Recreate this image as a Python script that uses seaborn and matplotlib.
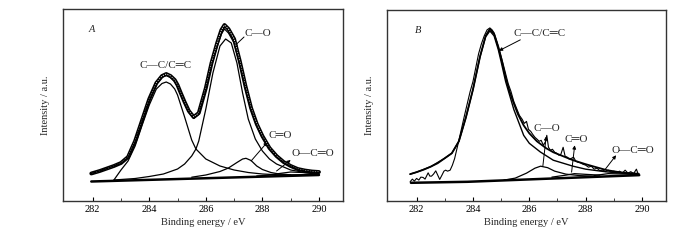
import matplotlib
matplotlib.use("Agg")
import matplotlib.pyplot as plt
import seaborn as sns
import pandas as pd

# ---------------- Panel A data (binding energy eV, intensity a.u.) ----------------
raw_a_x = [281.95, 282.25, 282.5, 282.75, 283.0, 283.25, 283.5, 283.75, 284.0, 284.25,
           284.45, 284.6, 284.75, 284.9, 285.0, 285.1, 285.25, 285.4, 285.57, 285.75,
           286.0, 286.2, 286.4, 286.55, 286.66, 286.8, 287.0, 287.2, 287.4, 287.6,
           287.8, 288.0, 288.25, 288.5, 288.75, 289.0, 289.25, 289.5, 289.75, 290.0]
raw_a_y = [27.5, 30, 32.5, 35, 38, 44, 60, 81, 102, 118,
           125, 127, 125, 121, 116, 109, 99, 90, 84, 88,
           113, 138, 158, 171, 176, 172, 162, 140, 115, 93,
           77, 65, 53, 45, 39, 35, 32, 30.5, 29.5, 29]
fit_a_y = [27.5, 30, 32.5, 35, 37.5, 43.5, 59, 80, 101, 116.5,
           123.5, 125.5, 123.5, 119.5, 114.5, 107.5, 97.5, 88.5, 82.5, 86.5,
           111, 135, 154.5, 167, 172, 168, 158, 136.5, 112, 90.5,
           75, 63.5, 52, 44, 38.5, 34.5, 31.5, 30, 29, 28.5]

base_a_x = [281.95, 290.0]
base_a_y = [19.5, 26.0]

cc_a_x = [282.75, 283.0, 283.25, 283.5, 283.75, 284.0, 284.25, 284.45, 284.6, 284.75,
          284.9, 285.0, 285.25, 285.5, 285.65, 286.0, 286.5, 287.0, 287.5, 288.0,
          288.5, 289.0, 289.5, 290.0]
cc_a_y = [21, 31, 40, 55, 76, 96, 112, 117.5, 119, 117,
          112, 106, 84, 61, 52, 42, 35, 31, 28.5, 27,
          26.3, 26.2, 26.4, 26.6]

co_a_x = [282.75, 283.0, 283.5, 284.0, 284.5, 285.0, 285.25, 285.5, 285.65, 285.75,
          286.0, 286.25, 286.5, 286.7, 286.9, 287.1, 287.3, 287.5, 287.75, 288.0,
          288.25, 288.5, 289.0, 289.5, 290.0]
co_a_y = [21, 21.5, 22.5, 24.5, 27, 32, 37, 45, 52, 60,
          92, 128, 155, 162, 158, 138, 108, 82, 62, 50,
          42, 37, 31, 28.5, 27.5]

c2o_a_x = [285.5, 286.0, 286.5, 286.8, 287.1, 287.3, 287.42, 287.6, 287.8, 288.0,
           288.3, 288.6, 289.0]
c2o_a_y = [23.8, 26, 29.5, 33, 38.5, 42, 42.7, 40.5, 35, 31.5,
           28.5, 27, 26.2]

occ_a_x = [287.8, 288.2, 288.6, 289.0, 289.4, 289.8, 290.0]
occ_a_y = [25.0, 25.8, 27.5, 29.0, 28.5, 27.3, 26.8]

# ---------------- Panel B data ----------------
raw_b_x = [281.77, 281.85, 281.92, 282.0, 282.08, 282.15, 282.23, 282.3, 282.41, 282.47,
           282.53, 282.6, 282.68, 282.75, 282.82, 282.9, 282.97, 283.03, 283.1, 283.19,
           283.27, 283.35, 283.46, 283.58, 283.7, 283.81, 283.9, 284.0, 284.1, 284.2,
           284.3, 284.4, 284.5, 284.6, 284.68, 284.75, 284.85, 284.95, 285.05, 285.15,
           285.25, 285.35, 285.45, 285.55, 285.65, 285.75, 285.82, 285.9, 285.97, 286.05,
           286.12, 286.2, 286.28, 286.35, 286.42, 286.5, 286.58, 286.62, 286.68, 286.75,
           286.82, 286.9, 286.97, 287.05, 287.12, 287.2, 287.27, 287.35, 287.42, 287.5,
           287.57, 287.65, 287.72, 287.8, 287.9, 288.0, 288.1, 288.2, 288.3, 288.4,
           288.5, 288.6, 288.7, 288.8, 288.9, 289.0, 289.1, 289.2, 289.3, 289.4,
           289.5, 289.6, 289.7, 289.8, 289.85, 289.9]
raw_b_y = [19.3, 22, 20, 22.7, 21, 24, 23.7, 22, 28.3, 25,
           25, 27, 30.3, 26, 21.7, 26, 30, 31, 30, 31,
           36, 42.7, 56, 71, 86, 99.3, 110, 120, 134, 148,
           158, 166, 172, 174, 172, 169, 160, 150, 140, 129,
           118, 110, 100, 93, 86, 82, 78, 80, 72, 70,
           67, 64, 62, 60, 61, 56, 60, 66, 54, 51,
           52, 49, 48, 46, 47, 54, 45, 44, 42, 43,
           44, 40, 39, 38.5, 37, 36, 34, 35, 32, 33,
           30.5, 31, 29.5, 31, 29, 30, 28.5, 30, 28, 31,
           28, 29.5, 27.5, 32, 28, 27.5]

fit_b_x = [281.77, 282.0, 282.25, 282.5, 282.75, 283.0, 283.25, 283.5, 283.75, 284.0,
           284.25, 284.45, 284.6, 284.75, 284.9, 285.0, 285.16, 285.3, 285.45, 285.6,
           285.8, 286.0, 286.27, 286.6, 286.85, 287.2, 287.55, 288.0, 288.37, 288.75,
           289.19, 289.5, 289.84]
fit_b_y = [27, 29, 31.5, 34.5, 38, 43, 48, 60, 84, 112,
           145, 166, 173, 168, 155, 144, 124, 110, 98, 87,
           76, 68, 60, 53, 49, 45, 41, 37, 34, 31,
           29, 28, 27.5]

base_b_x = [281.8, 283.8, 289.9]
base_b_y = [18.3, 19.3, 26.0]

cc_b_x = [281.77, 282.0, 282.5, 283.0, 283.25, 283.5, 283.75, 284.0, 284.25, 284.45,
          284.6, 284.75, 284.9, 285.0, 285.16, 285.45, 285.8, 286.0, 286.39, 286.85,
          287.55, 288.0, 288.73, 289.3, 289.78]
cc_b_y = [27, 29, 34.5, 43, 48, 60, 84, 112, 145, 165,
          171, 166, 152, 140, 120, 92, 66, 58, 49.3, 41,
          35, 32, 29.3, 28, 27.5]

co_b_x = [285.1, 285.5, 285.9, 286.2, 286.4, 286.65, 286.9, 287.3, 287.8, 288.3]
co_b_y = [21, 23, 28, 33, 35, 33.5, 30, 27, 25.5, 25]

c2o_b_x = [286.8, 287.3, 287.6, 288.0, 288.5]
c2o_b_y = [24, 26, 27.5, 26.8, 26]

occ_b_x = [288.3, 288.8, 289.3, 289.8]
occ_b_y = [25.6, 27.5, 27.2, 26.5]

# ---------------- labels ----------------
xticks = [282, 284, 286, 288, 290]
xlabel = "Binding energy / eV"
ylabel = "Intensity / a.u."

sns.set_theme(style="white")
plt.rcParams["font.family"] = ["Liberation Serif", "DejaVu Serif"]

fig = plt.figure(figsize=(7, 2.4), dpi=100)
axA = fig.add_axes([63/700, 39/240, 280/700, 192/240])
axB = fig.add_axes([387/700, 39/240, 279/700, 191/240])


def line(ax, x, y, lw=0.9, color="black", z=2, ls="-"):
    df = pd.DataFrame({"x": x, "y": y})
    sns.lineplot(data=df, x="x", y="y", ax=ax, sort=False, estimator=None,
                 color=color, lw=lw, zorder=z, linestyle=ls)


def hollow(ax, x, y):
    line(ax, x, y, lw=2.8, z=3)
    line(ax, x, y, lw=0.6, color="white", z=4, ls=(0, (1.5, 1.5)))


# Panel A
line(axA, base_a_x, base_a_y, lw=1.8)
line(axA, cc_a_x, cc_a_y)
line(axA, co_a_x, co_a_y)
line(axA, c2o_a_x, c2o_a_y)
line(axA, occ_a_x, occ_a_y)
hollow(axA, raw_a_x, raw_a_y)
line(axA, raw_a_x, fit_a_y, lw=0.9, z=5)

# Panel B
line(axB, base_b_x, base_b_y, lw=1.8)
line(axB, cc_b_x, cc_b_y, lw=1.0)
line(axB, co_b_x, co_b_y)
line(axB, c2o_b_x, c2o_b_y)
line(axB, occ_b_x, occ_b_y)
line(axB, fit_b_x, fit_b_y, lw=1.3)
line(axB, raw_b_x, raw_b_y, lw=0.8)

for ax in (axA, axB):
    ax.set_xlim(280.95, 290.85)
    ax.set_ylim(0, 192)
    ax.set_xticks(xticks)
    ax.set_xticks([283, 285, 287, 289], minor=True)
    ax.set_yticks([])
    ax.tick_params(axis="x", which="major", direction="in", length=3, width=0.8,
                   labelsize=7.5, pad=3, bottom=True, colors="black")
    ax.tick_params(axis="x", which="minor", direction="in", length=2, width=0.6,
                   bottom=True)
    ax.set_xlabel(xlabel, fontsize=7.5, labelpad=3)
    ax.set_ylabel(ylabel, fontsize=7.5, labelpad=9)
    for s in ax.spines.values():
        s.set_visible(True)
        s.set_color("#333333")
        s.set_linewidth(1.0)

fs = 8
arrow_kw = dict(arrowstyle="-|>", color="black", lw=0.7, mutation_scale=5,
                shrinkA=0, shrinkB=0)

# Panel A annotations
axA.text(281.95, 171, "A", style="italic", fontsize=7.5, ha="center", va="center")
axA.text(284.56, 136, "C—C/C═C", fontsize=fs, ha="center", va="center")
axA.text(287.85, 168, "C—O", fontsize=fs, ha="center", va="center")
axA.annotate("", xy=(286.98, 154), xytext=(287.35, 164), arrowprops=arrow_kw)
axA.text(288.62, 65, "C═O", fontsize=fs, ha="center", va="center")
axA.annotate("", xy=(288.18, 59), xytext=(287.6, 40), arrowprops=arrow_kw)
axA.text(289.8, 47, "O—C═O", fontsize=fs, ha="center", va="center")
axA.annotate("", xy=(289.0, 41), xytext=(288.5, 30), arrowprops=arrow_kw)

# Panel B annotations
axB.text(282.06, 171, "B", style="italic", fontsize=7.5, ha="center", va="center")
axB.text(286.35, 168, "C—C/C═C", fontsize=fs, ha="center", va="center")
axB.annotate("", xy=(284.92, 151), xytext=(285.68, 162), arrowprops=arrow_kw)
axB.text(286.62, 73, "C—O", fontsize=fs, ha="center", va="center")
axB.annotate("", xy=(286.6, 65), xytext=(286.48, 35), arrowprops=arrow_kw)
axB.text(287.67, 62, "C═O", fontsize=fs, ha="center", va="center")
axB.annotate("", xy=(287.61, 56), xytext=(287.5, 29), arrowprops=arrow_kw)
axB.text(289.66, 51, "O—C═O", fontsize=fs, ha="center", va="center")
axB.annotate("", xy=(289.08, 46), xytext=(288.67, 31), arrowprops=arrow_kw)

fig.savefig("out.png", dpi=100)
